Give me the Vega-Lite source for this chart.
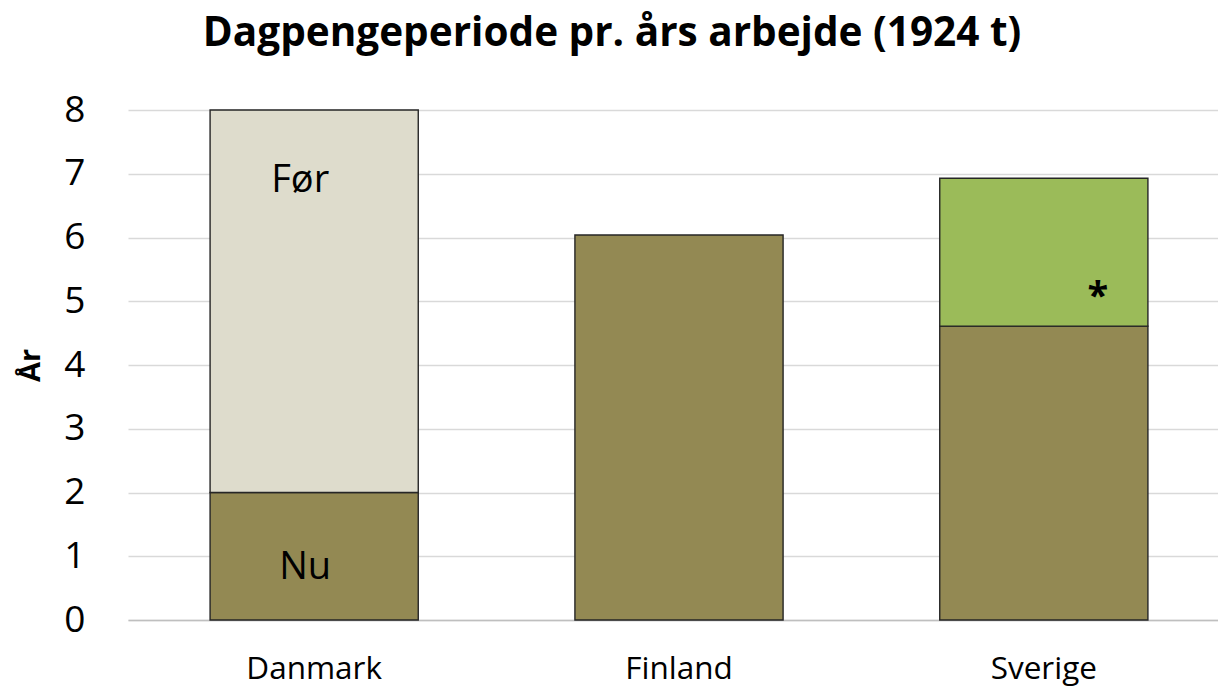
{
  "$schema": "https://vega.github.io/schema/vega-lite/v6.json",
  "autosize": "none",
  "width": 1090,
  "height": 510,
  "padding": {"left": 128, "top": 110, "right": 0, "bottom": 66},
  "background": "white",
  "title": {
    "text": "Dagpengeperiode pr. års arbejde (1924 t)",
    "font": "Open Sans",
    "fontSize": 40.5,
    "fontWeight": "bold",
    "color": "#000000",
    "anchor": "middle",
    "dx": -61,
    "offset": 37
  },
  "config": {
    "view": {"stroke": null},
    "font": "Open Sans"
  },
  "datasets": {
    "bars": [
      {"land": "Danmark", "del": "Nu", "value": 2.0, "order": 1},
      {"land": "Danmark", "del": "Før", "value": 6.0, "order": 2},
      {"land": "Finland", "del": "Basis", "value": 6.04, "order": 1},
      {"land": "Sverige", "del": "Basis", "value": 4.61, "order": 1},
      {"land": "Sverige", "del": "Ekstra", "value": 2.32, "order": 2}
    ],
    "labels": [
      {"land": "Danmark", "y": 6.89, "label": "Før"},
      {"land": "Danmark", "y": 0.82, "label": "Nu"},
      {"land": "Sverige", "y": 5.05, "label": "*"}
    ]
  },
  "encoding": {
    "x": {
      "field": "land",
      "type": "nominal",
      "sort": ["Danmark", "Finland", "Sverige"],
      "scale": {"paddingInner": 0.4294, "paddingOuter": 0.225, "range": [0, 1102]},
      "axis": {
        "title": null,
        "labelAngle": 0,
        "labelFont": "Open Sans",
        "labelFontSize": 31.5,
        "labelColor": "#000000",
        "labelPadding": 33,
        "ticks": false,
        "domainColor": "#BFBFBF",
        "domainWidth": 1.5
      }
    }
  },
  "layer": [
    {
      "data": {"name": "bars"},
      "mark": {"type": "bar", "stroke": "#262626", "strokeWidth": 1.4},
      "encoding": {
        "y": {
          "field": "value",
          "type": "quantitative",
          "stack": "zero",
          "scale": {"domain": [0, 8], "nice": false},
          "axis": {
            "title": "År",
            "titleFont": "Open Sans",
            "titleFontSize": 29,
            "titleFontWeight": "bold",
            "titleColor": "#000000",
            "titlePadding": 18,
            "values": [0, 1, 2, 3, 4, 5, 6, 7, 8],
            "format": "d",
            "labelFont": "Open Sans",
            "labelFontSize": 37,
            "labelColor": "#000000",
            "labelPadding": 43,
            "ticks": false,
            "domain": false,
            "gridColor": "#D9D9D9",
            "gridWidth": 1.5
          }
        },
        "order": {"field": "order", "type": "quantitative"},
        "color": {
          "field": "del",
          "type": "nominal",
          "scale": {
            "domain": ["Nu", "Før", "Basis", "Ekstra"],
            "range": ["#938953", "#DEDCCC", "#938953", "#9BBB59"]
          },
          "legend": null
        }
      }
    },
    {
      "data": {"name": "labels"},
      "transform": [{"filter": "datum.label === 'Før'"}],
      "mark": {"type": "text", "fontSize": 38, "color": "#000000", "baseline": "middle", "align": "center", "dx": -14},
      "encoding": {
        "y": {"field": "y", "type": "quantitative"},
        "text": {"field": "label"}
      }
    },
    {
      "data": {"name": "labels"},
      "transform": [{"filter": "datum.label === 'Nu'"}],
      "mark": {"type": "text", "fontSize": 38, "color": "#000000", "baseline": "middle", "align": "center", "dx": -9},
      "encoding": {
        "y": {"field": "y", "type": "quantitative"},
        "text": {"field": "label"}
      }
    },
    {
      "data": {"name": "labels"},
      "transform": [{"filter": "datum.label === '*'"}],
      "mark": {"type": "text", "fontSize": 38, "fontWeight": "bold", "color": "#000000", "baseline": "middle", "align": "center", "dx": 54},
      "encoding": {
        "y": {"field": "y", "type": "quantitative"},
        "text": {"field": "label"}
      }
    }
  ]
}
